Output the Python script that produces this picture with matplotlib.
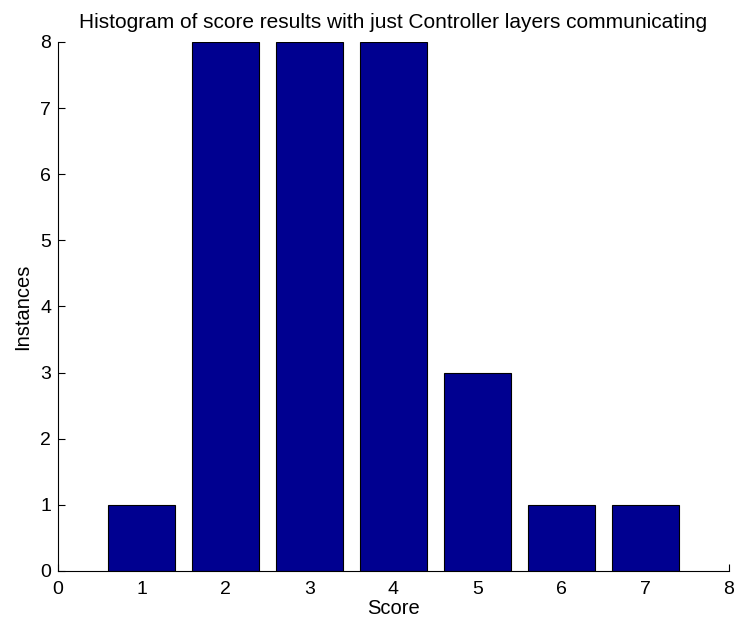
import matplotlib
matplotlib.use("Agg")
import matplotlib.pyplot as plt

scores = [1, 2, 3, 4, 5, 6, 7]
instances = [1, 8, 8, 8, 3, 1, 1]
xticks = [0, 1, 2, 3, 4, 5, 6, 7, 8]
yticks = [0, 1, 2, 3, 4, 5, 6, 7, 8]

plt.rcParams['font.family'] = ['Liberation Sans', 'DejaVu Sans']

fig = plt.figure(figsize=(7.35, 6.23), dpi=100)
ax = fig.add_axes([0.0789, 0.0835, 0.9129, 0.8491])

ax.bar(scores, instances, width=0.8, color='#000090', edgecolor='black', linewidth=0.8)

ax.set_xlim(0, 8)
ax.set_ylim(0, 8)
ax.set_xticks(xticks)
ax.set_yticks(yticks)
ax.set_axisbelow(True)  # bars hide the inward ticks
ax.tick_params(direction='in', length=5, labelsize=14, width=0.8)
ax.tick_params(axis='x', pad=7)
ax.tick_params(axis='y', pad=5)
ax.spines['top'].set_visible(False)
ax.spines['right'].set_visible(False)

ax.set_title('Histogram of score results with just Controller layers communicating', fontsize=15, pad=10)
ax.set_xlabel('Score', fontsize=14.5, labelpad=1)
ax.set_ylabel('Instances', fontsize=14.5, labelpad=6)

fig.savefig('out.png', dpi=100)
